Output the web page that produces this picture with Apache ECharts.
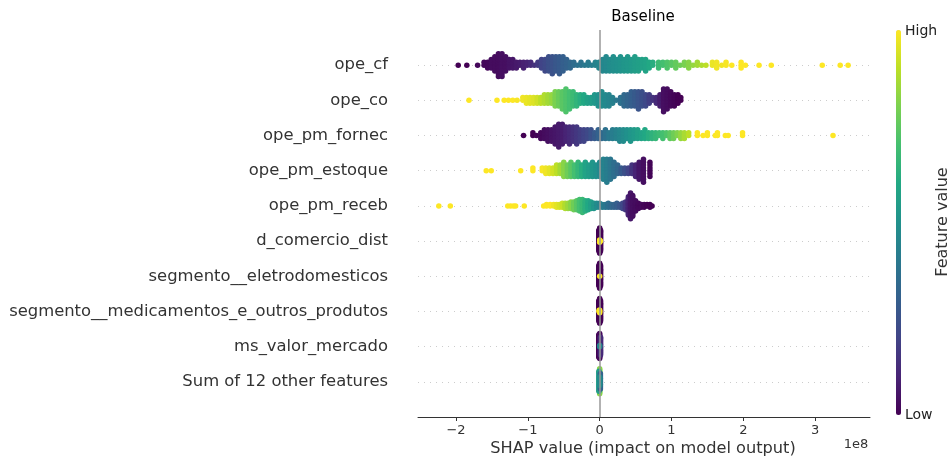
<!DOCTYPE html>
<html>
<head>
<meta charset="utf-8">
<script src="https://cdn.jsdelivr.net/npm/echarts@6/dist/echarts.min.js"></script>
<style>html,body{margin:0;padding:0;background:#fff}#chart{width:951px;height:457px}</style>
</head>
<body>
<div id="chart"></div>
<script>
// Feature names, top to bottom
const featureNames = ['ope_cf', 'ope_co', 'ope_pm_fornec', 'ope_pm_estoque', 'ope_pm_receb',
  'd_comercio_dist', 'segmento__eletrodomesticos', 'segmento__medicamentos_e_outros_produtos',
  'ms_valor_mercado', 'Sum of 12 other features'];
const xTicks = [-2, -1, 0, 1, 2, 3];          // SHAP value ticks (x 1e8)
const featureValueLabels = ['High', 'Low'];

// Each entry: [SHAP value (x1e8), number of samples at that value, normalized feature value 0..1]
const opeCf = [[-1.97,1,0.0],[-1.85,1,0.0],[-1.70,1,0.02],[-1.61,2,0.02],[-1.56,3,0.02],[-1.51,4,0.03],[-1.46,6,0.03],[-1.41,9,0.03],[-1.36,9,0.04],[-1.31,6,0.04],[-1.26,4,0.05],[-1.21,4,0.06],[-1.16,3,0.07],[-1.11,2,0.08],[-1.06,3,0.09],[-1.01,2,0.1],[-0.96,2,0.12],[-0.91,1,0.14],[-0.86,2,0.17],[-0.81,4,0.2],[-0.76,5,0.22],[-0.71,6,0.24],[-0.66,7,0.25],[-0.61,6,0.27],[-0.56,7,0.28],[-0.51,6,0.3],[-0.46,4,0.31],[-0.41,3,0.33],[-0.36,2,0.35],[-0.31,1,0.37],[-0.26,2,0.38],[-0.21,1,0.4],[-0.16,2,0.41],[-0.11,1,0.42],[-0.06,2,0.44],[-0.01,3,0.45],[0.04,5,0.46],[0.09,6,0.47],[0.14,5,0.48],[0.19,6,0.49],[0.24,5,0.5],[0.29,6,0.51],[0.34,5,0.52],[0.39,6,0.53],[0.44,5,0.54],[0.49,6,0.55],[0.54,5,0.56],[0.59,4,0.57],[0.64,5,0.58],[0.69,3,0.6],[0.74,2,0.62],[0.82,3,0.68],[0.88,2,0.7],[0.94,3,0.72],[1.00,2,0.74],[1.06,3,0.76],[1.12,1,0.78],[1.18,2,0.8],[1.24,3,0.82],[1.30,1,0.84],[1.36,2,0.86],[1.42,1,0.88],[1.48,1,0.9],[1.57,2,0.97],[1.63,3,0.98],[1.70,1,0.98],[1.76,2,0.99],[1.84,1,1.0],[1.97,3,1.0],[2.03,1,1.0],[2.22,1,1.0],[2.39,1,1.0],[3.10,1,1.0],[3.35,1,1.0],[3.46,1,1.0]];
const opeCo = [[-1.82,1,1.0],[-1.43,1,1.0],[-1.33,1,1.0],[-1.27,1,1.0],[-1.21,1,1.0],[-1.15,1,0.99],[-1.07,2,0.98],[-1.02,3,0.97],[-0.97,3,0.96],[-0.92,3,0.95],[-0.87,3,0.93],[-0.82,3,0.9],[-0.77,4,0.88],[-0.72,4,0.86],[-0.67,4,0.84],[-0.62,6,0.8],[-0.57,6,0.77],[-0.52,7,0.74],[-0.47,9,0.72],[-0.42,7,0.7],[-0.37,6,0.68],[-0.32,5,0.65],[-0.27,4,0.62],[-0.22,4,0.6],[-0.17,3,0.57],[-0.12,3,0.55],[-0.07,4,0.53],[-0.02,5,0.5],[0.03,6,0.48],[0.08,5,0.47],[0.13,5,0.45],[0.18,3,0.43],[0.23,1,0.4],[0.29,3,0.37],[0.34,5,0.34],[0.39,5,0.32],[0.44,6,0.3],[0.49,6,0.28],[0.54,7,0.26],[0.59,6,0.24],[0.64,5,0.22],[0.69,4,0.18],[0.74,2,0.15],[0.79,3,0.12],[0.84,5,0.08],[0.89,9,0.04],[0.94,8,0.03],[0.99,6,0.02],[1.04,5,0.01],[1.09,4,0.0],[1.13,2,0.0]];
const opePmFornec = [[-1.06,1,0.0],[-0.93,2,0.0],[-0.88,1,0.01],[-0.82,3,0.02],[-0.77,4,0.03],[-0.72,5,0.04],[-0.67,5,0.05],[-0.62,7,0.06],[-0.57,9,0.07],[-0.52,8,0.08],[-0.47,6,0.1],[-0.42,7,0.12],[-0.37,6,0.14],[-0.32,7,0.16],[-0.27,5,0.18],[-0.22,5,0.2],[-0.17,4,0.22],[-0.12,4,0.25],[-0.07,3,0.28],[-0.02,4,0.31],[0.03,3,0.34],[0.08,4,0.37],[0.13,3,0.4],[0.18,4,0.42],[0.23,4,0.44],[0.28,5,0.46],[0.33,5,0.48],[0.38,4,0.5],[0.43,5,0.52],[0.48,4,0.54],[0.53,4,0.56],[0.58,3,0.58],[0.63,4,0.6],[0.68,3,0.62],[0.73,3,0.64],[0.78,3,0.66],[0.83,2,0.68],[0.88,3,0.7],[0.93,2,0.72],[0.98,3,0.75],[1.03,3,0.78],[1.08,2,0.81],[1.13,3,0.84],[1.18,3,0.87],[1.24,2,0.9],[1.36,2,1.0],[1.44,1,1.0],[1.50,2,1.0],[1.61,1,1.0],[1.64,2,1.0],[1.75,1,1.0],[1.79,1,1.0],[1.99,2,1.0],[3.25,1,1.0]];
const opePmEstoque = [[-1.58,1,1.0],[-1.51,1,1.0],[-1.10,1,1.0],[-0.93,2,1.0],[-0.80,2,0.99],[-0.75,3,0.98],[-0.70,3,0.96],[-0.65,3,0.93],[-0.60,4,0.9],[-0.55,4,0.86],[-0.50,6,0.82],[-0.45,5,0.78],[-0.40,6,0.74],[-0.35,5,0.7],[-0.30,6,0.66],[-0.25,5,0.62],[-0.20,6,0.58],[-0.15,5,0.55],[-0.10,6,0.52],[-0.05,5,0.5],[0.0,6,0.47],[0.05,8,0.44],[0.10,9,0.42],[0.15,8,0.39],[0.20,6,0.36],[0.25,4,0.33],[0.30,3,0.28],[0.35,3,0.24],[0.40,3,0.2],[0.45,4,0.15],[0.50,5,0.1],[0.55,7,0.06],[0.61,9,0.04],[0.70,6,0.01]];
const opePmReceb = [[-2.24,1,1.0],[-2.08,1,1.0],[-1.28,1,1.0],[-1.24,1,1.0],[-1.20,1,1.0],[-1.17,1,1.0],[-1.05,1,1.0],[-0.78,1,1.0],[-0.74,2,1.0],[-0.69,2,1.0],[-0.64,2,0.98],[-0.60,3,0.96],[-0.56,3,0.94],[-0.52,4,0.92],[-0.48,5,0.88],[-0.44,5,0.85],[-0.40,6,0.82],[-0.36,7,0.78],[-0.32,8,0.74],[-0.28,10,0.7],[-0.24,11,0.67],[-0.20,9,0.63],[-0.16,8,0.6],[-0.12,6,0.56],[-0.08,5,0.52],[-0.04,4,0.48],[0.0,4,0.45],[0.04,3,0.42],[0.08,3,0.39],[0.12,4,0.36],[0.16,3,0.34],[0.20,3,0.32],[0.24,4,0.3],[0.28,3,0.27],[0.32,5,0.22],[0.36,7,0.16],[0.40,15,0.1],[0.43,21,0.06],[0.46,17,0.04],[0.50,9,0.03],[0.54,5,0.02],[0.58,3,0.02],[0.62,3,0.01],[0.66,2,0.0],[0.70,3,0.0],[0.73,1,0.0]];
const dComercioDist = [[-0.012,20,0.0],[0.0,24,0.0],[0.012,20,0.0],[0.0,3,1.0],[0.01,1,1.0]];
const segEletro = [[-0.012,18,0.0],[0.0,22,0.0],[0.012,18,0.0],[0.0,1,1.0]];
const segMedicamentos = [[-0.012,18,0.0],[0.0,22,0.0],[0.012,18,0.0],[0.0,3,1.0],[-0.008,2,1.0]];
const msValorMercado = [[-0.012,20,0.0],[0.0,22,0.02],[0.012,16,0.12],[0.0,2,0.45]];
const sumOther = [[0.0,22,0.82],[-0.01,18,0.55],[0.01,14,0.32],[0.0,8,0.48]];

const rows = [opeCf, opeCo, opePmFornec, opePmEstoque, opePmReceb,
  dComercioDist, segEletro, segMedicamentos, msValorMercado, sumOther];

const viridis = ['#440154','#482475','#414487','#355f8d','#2a788e','#21918c','#22a884','#44bf70','#7ad151','#bddf26','#fde725'];
const FONT = 'DejaVu Sans';

// beeswarm layout (shap style): stack samples sharing a value, alternating up/down
function swarm(bins, pos) {
  let maxHalf = 0;
  bins.forEach(b => { maxHalf = Math.max(maxHalf, Math.ceil((b[1] - 1) / 2)); });
  const scale = 0.9 * 0.45 / (maxHalf + 1);
  const pts = [];
  bins.forEach(([x, n, c]) => {
    for (let L = 0; L < n; L++) {
      const off = Math.ceil(L / 2) * ((L % 2) * 2 - 1);
      pts.push([x, pos + off * scale, c]);
    }
  });
  return pts;
}
const n = featureNames.length;
let upper = [], lower = [];
rows.forEach((bins, i) => {
  const pts = swarm(bins, n - 1 - i);
  if (i < 5) upper = upper.concat(pts); else lower = lower.concat(pts);
});

const chart = echarts.init(document.getElementById('chart'), null, {renderer: 'canvas'});
chart.setOption({
  animation: false,
  textStyle: {fontFamily: FONT},
  grid: {left: 418, right: 81, top: 30, bottom: 40},
  xAxis: {
    type: 'value', min: -2.53, max: 3.765,
    axisLine: {show: true, onZero: false, lineStyle: {color: '#333', width: 1}},
    axisTick: {show: true, customValues: xTicks, length: 4, lineStyle: {color: '#333'}},
    axisLabel: {show: true, customValues: xTicks, color: '#333', fontSize: 13, margin: 7, fontFamily: FONT,
      formatter: v => (v < 0 ? '\u2212' + Math.abs(v) : String(v))},
    splitLine: {show: false}
  },
  yAxis: {
    type: 'value', min: -1, max: n, interval: 1,
    axisLine: {show: false}, axisTick: {show: false},
    axisLabel: {color: '#333', fontSize: 16.4, margin: 30, fontFamily: FONT, padding: [3, 0, 0, 0],
      formatter: v => { const i = n - 1 - v; return (i >= 0 && i < n) ? featureNames[i] : ''; }},
    splitLine: {show: true, showMinLine: false, showMaxLine: false,
      lineStyle: {color: '#cccccc', width: 1, type: [1, 5]}}
  },
  visualMap: {
    type: 'continuous', min: 0, max: 1, dimension: 2, seriesIndex: [0, 1],
    inRange: {color: viridis}, calculable: false, orient: 'vertical',
    left: 896, top: 30, itemWidth: 5, itemHeight: 385, padding: 0, showLabel: false
  },
  series: [
    {type: 'scatter', data: upper, symbol: 'circle', symbolSize: 5.5, z: 2, silent: true,
      itemStyle: {opacity: 1}},
    {type: 'scatter', data: lower, symbol: 'circle', symbolSize: 5.5, z: 4, silent: true,
      itemStyle: {opacity: 1}},
    {type: 'scatter', data: [], z: 3, silent: true,
      markLine: {silent: true, symbol: ['none', 'none'], label: {show: false},
        lineStyle: {color: '#999999', width: 1.5, type: 'solid'},
        data: [{xAxis: 0}]}}
  ],
  graphic: [
    {type: 'text', x: 643, y: 17, style: {text: 'Baseline', textAlign: 'center', textVerticalAlign: 'middle', fontSize: 15, fill: '#000', fontFamily: FONT}},
    {type: 'text', x: 643, y: 449, style: {text: 'SHAP value (impact on model output)', textAlign: 'center', textVerticalAlign: 'middle', fontSize: 16.2, fill: '#333', fontFamily: FONT}},
    {type: 'text', x: 856, y: 445, style: {text: '1e8', textAlign: 'center', textVerticalAlign: 'middle', fontSize: 13, fill: '#333', fontFamily: FONT}},
    {type: 'text', x: 905, y: 31, style: {text: featureValueLabels[0], textAlign: 'left', textVerticalAlign: 'middle', fontSize: 14, fill: '#222', fontFamily: FONT}},
    {type: 'text', x: 905, y: 415, style: {text: featureValueLabels[1], textAlign: 'left', textVerticalAlign: 'middle', fontSize: 14, fill: '#222', fontFamily: FONT}},
    {type: 'text', x: 943, y: 222, rotation: Math.PI / 2, style: {text: 'Feature value', textAlign: 'center', textVerticalAlign: 'middle', fontSize: 16, fill: '#333', fontFamily: FONT}}
  ]
});
</script>
</body>
</html>
